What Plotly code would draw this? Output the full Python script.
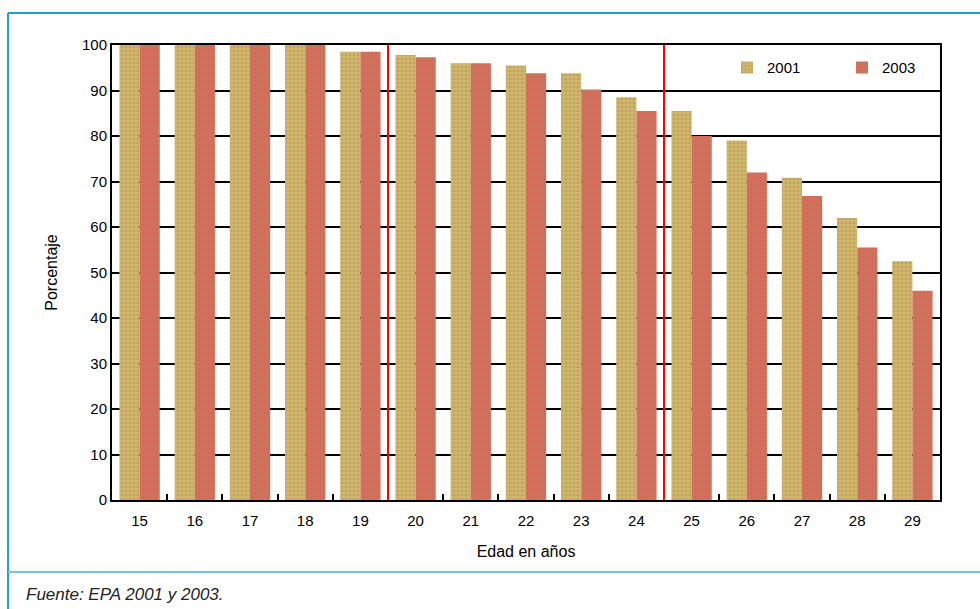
import plotly.graph_objects as go

ages = ["15", "16", "17", "18", "19", "20", "21", "22", "23", "24", "25", "26", "27", "28", "29"]
v2001 = [100, 100, 100, 100, 98.5, 97.8, 96, 95.5, 93.8, 88.5, 85.5, 79, 70.8, 62, 52.5]
v2003 = [100, 100, 100, 100, 98.5, 97.3, 96, 93.8, 90.2, 85.5, 80, 72, 66.8, 55.5, 46]
y_ticks = [0, 10, 20, 30, 40, 50, 60, 70, 80, 90, 100]
separators = [4.5, 9.5]

fig = go.Figure()
fig.add_trace(go.Bar(
    x=ages, y=v2001, name="2001",
    marker=dict(color="#cbbd66", line=dict(width=0),
                pattern=dict(shape=".", fgcolor="#c98070", bgcolor="#cbbd66", size=4, solidity=0.5)),
))
fig.add_trace(go.Bar(
    x=ages, y=v2003, name="2003",
    marker=dict(color="#d8685a", line=dict(width=0),
                pattern=dict(shape=".", fgcolor="#a89060", bgcolor="#d8685a", size=4, solidity=0.4)),
))

L, R, T, B = 112, 40, 45, 109
W, H = 980, 609
pw, ph = W - L - R, H - T - B

def px(x):
    return (x - L) / pw

def py(y):
    return (H - B - y) / ph

shapes = []
for s in separators:
    shapes.append(dict(type="line", xref="x", yref="y", x0=s, x1=s, y0=0, y1=100,
                       line=dict(color="#ff0000", width=2), layer="above"))
# outer frame
shapes.append(dict(type="line", xref="paper", yref="paper", x0=px(8), x1=px(980), y0=py(13), y1=py(13),
                   line=dict(color="#1aa3c9", width=2)))
shapes.append(dict(type="line", xref="paper", yref="paper", x0=px(8), x1=px(8), y0=py(13), y1=py(609),
                   line=dict(color="#1aa3c9", width=2)))
shapes.append(dict(type="line", xref="paper", yref="paper", x0=px(8), x1=px(980), y0=py(572), y1=py(572),
                   line=dict(color="#72c6da", width=2)))

fig.update_layout(
    width=W, height=H,
    margin=dict(l=L, r=R, t=T, b=B, pad=0),
    paper_bgcolor="white", plot_bgcolor="white",
    barmode="group", bargap=0.27, bargroupgap=0,
    font=dict(family="Liberation Sans, Arial, sans-serif", size=15, color="black"),
    shapes=shapes,
    showlegend=True,
    legend=dict(orientation="h", x=px(957), xanchor="right", y=0.95, yanchor="middle",
                bgcolor="rgba(0,0,0,0)", borderwidth=0, entrywidth=70, font=dict(size=15),
                traceorder="normal"),
    xaxis=dict(type="category", range=[-0.5, 14.5], showgrid=False,
               showline=True, linecolor="black", linewidth=2, mirror=True,
               ticks="inside", tickson="boundaries", ticklen=6, tickcolor="black", tickwidth=2,
               ticklabelstandoff=6,
               layer="below traces",
               title=dict(text="Edad en años", font=dict(size=16), standoff=18)),
    yaxis=dict(range=[0, 100], tickvals=y_ticks, showgrid=True, gridcolor="black", gridwidth=2,
               showline=True, linecolor="black", linewidth=2, mirror=True,
               zeroline=False, ticks="", layer="below traces",
               title=dict(text="Porcentaje", font=dict(size=16), standoff=20)),
    annotations=[dict(text="<i>Fuente: EPA 2001 y 2003.</i>", xref="paper", yref="paper",
                      x=px(24), y=py(594), xanchor="left", yanchor="middle", showarrow=False,
                      font=dict(size=17, color="#222222"))],
)

fig.write_html("out.html", config={"displayModeBar": False},
               post_script="document.body.style.margin='0';document.body.style.overflow='hidden';")
